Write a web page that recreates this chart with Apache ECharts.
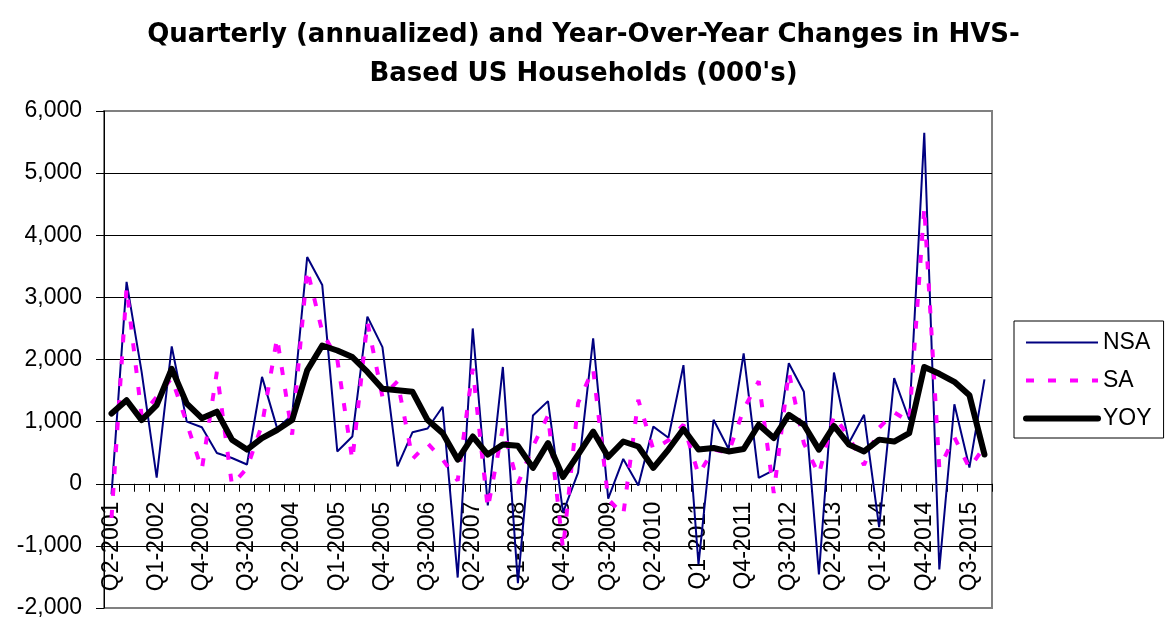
<!DOCTYPE html>
<html>
<head>
<meta charset="utf-8">
<script src="https://cdn.jsdelivr.net/npm/echarts@6/dist/echarts.min.js"></script>
<style>
html,body{margin:0;padding:0;background:#fff;}
#c{width:1167px;height:638px;}
</style>
</head>
<body>
<div id="c"></div>
<script>
var categories = [
"Q2-2001","Q3-2001","Q4-2001","Q1-2002","Q2-2002","Q3-2002","Q4-2002","Q1-2003","Q2-2003","Q3-2003",
"Q4-2003","Q1-2004","Q2-2004","Q3-2004","Q4-2004","Q1-2005","Q2-2005","Q3-2005","Q4-2005","Q1-2006",
"Q2-2006","Q3-2006","Q4-2006","Q1-2007","Q2-2007","Q3-2007","Q4-2007","Q1-2008","Q2-2008","Q3-2008",
"Q4-2008","Q1-2009","Q2-2009","Q3-2009","Q4-2009","Q1-2010","Q2-2010","Q3-2010","Q4-2010","Q1-2011",
"Q2-2011","Q3-2011","Q4-2011","Q1-2012","Q2-2012","Q3-2012","Q4-2012","Q1-2013","Q2-2013","Q3-2013",
"Q4-2013","Q1-2014","Q2-2014","Q3-2014","Q4-2014","Q1-2015","Q2-2015","Q3-2015","Q4-2015"
];
var nsa = [
-170,3250,1800,100,2210,1000,910,495,415,310,
1720,895,1105,3650,3200,520,760,2690,2200,280,
830,890,1240,-1510,2500,-350,1880,-1600,1100,1330,
-460,180,2340,-240,400,-30,920,740,1910,-1300,
1030,560,2100,96,220,1940,1480,-1460,1790,660,
1110,-700,1700,1030,5650,-1380,1280,260,1680
];
var sa = [
-550,3150,1100,1400,1700,975,230,1800,-20,250,
950,2350,790,3450,2450,2000,380,2600,1400,1650,
400,650,390,50,1850,-400,900,0,600,1100,
-1050,1300,1850,-250,-500,1350,550,700,950,150,
550,500,1200,1650,-150,1800,650,150,1100,750,
300,900,1150,1000,4450,250,750,250,600
];
var yoy = [
1130,1345,1025,1265,1850,1290,1055,1160,710,550,
735,865,1025,1825,2225,2145,2040,1800,1530,1505,
1480,1025,815,390,760,470,630,610,255,655,
110,470,840,430,680,600,255,550,880,550,
575,520,560,950,735,1110,950,550,930,630,
520,710,680,815,1880,1770,1640,1425,470
];
var yTicks = {min:-2000, max:6000, interval:1000};
var titleLines = ["Quarterly (annualized) and Year-Over-Year Changes in HVS-", "Based US Households (000's)"];

var FONT = '"Liberation Sans", Arial, sans-serif';
var TFONT = '"DejaVu Sans", "Liberation Sans", sans-serif';
var nsaStyle = {color:'#000080', width:2};
var saStyle = {color:'#FF00FF', width:4, type:[8,14], cap:'butt'};
var yoyStyle = {color:'#000000', width:6, join:'round', cap:'round'};
var titleStyle = {fontFamily:TFONT, fontSize:26, fontWeight:'bold', color:'#000'};
var hideSym = {opacity:0};

// pixel offset of the zero line from the grid bottom (layout only)
var gridTop = 111, gridBottom = 30, chartH = 638;
var plotH = chartH - gridTop - gridBottom;
var zeroOffset = -plotH * (0 - yTicks.min) / (yTicks.max - yTicks.min);

var chart = echarts.init(document.getElementById('c'));
chart.setOption({
  animation:false,
  backgroundColor:'#fff',
  title:[
    {text:titleLines[0], left:'center', top:17, textStyle:titleStyle},
    {text:titleLines[1], left:'center', top:56, textStyle:titleStyle}
  ],
  legend:{
    orient:'vertical',
    left:1014, top:321,
    padding:[10,12,8,9],
    itemGap:15,
    itemWidth:72, itemHeight:14,
    borderColor:'#000', borderWidth:1,
    backgroundColor:'#fff',
    textStyle:{fontFamily:FONT, fontSize:23, color:'#000', lineHeight:23},
    data:[
      {name:'NSA', lineStyle:nsaStyle, itemStyle:hideSym},
      {name:'SA', lineStyle:saStyle, itemStyle:hideSym},
      {name:'YOY', lineStyle:yoyStyle, itemStyle:hideSym}
    ]
  },
  grid:{left:104, right:175, top:gridTop, bottom:gridBottom, outerBoundsMode:'none', containLabel:false,
        show:true, borderColor:'#808080', borderWidth:2, backgroundColor:'#fff'},
  xAxis:{
    type:'category',
    data:categories,
    boundaryGap:true,
    offset:zeroOffset,
    axisLine:{onZero:false, lineStyle:{color:'#000', width:1}},
    axisTick:{show:true, interval:0, length:8, lineStyle:{color:'#000'}},
    axisLabel:{interval:2, rotate:90, margin:18, fontFamily:FONT, fontSize:23, color:'#000'},
    splitLine:{show:false}
  },
  yAxis:{
    type:'value',
    min:yTicks.min, max:yTicks.max, interval:yTicks.interval,
    axisLine:{show:true, lineStyle:{color:'#000', width:1}},
    axisTick:{show:true, length:8, lineStyle:{color:'#000'}},
    axisLabel:{margin:22, fontFamily:FONT, fontSize:23, color:'#000',
      formatter:function(v){return v.toLocaleString('en-US');}},
    splitLine:{show:true, lineStyle:{color:['#808080','#000','#000','#000','#000','#000','#000','#000','#808080'], width:1}}
  },
  series:[
    {name:'NSA', type:'line', data:nsa, symbol:'none', lineStyle:nsaStyle, itemStyle:{color:'#000080'}, z:3},
    {name:'SA', type:'line', data:sa, symbol:'none', lineStyle:saStyle, itemStyle:{color:'#FF00FF'}, z:4},
    {name:'YOY', type:'line', data:yoy, symbol:'none', lineStyle:yoyStyle, itemStyle:{color:'#000'}, z:5}
  ]
});
</script>
</body>
</html>
